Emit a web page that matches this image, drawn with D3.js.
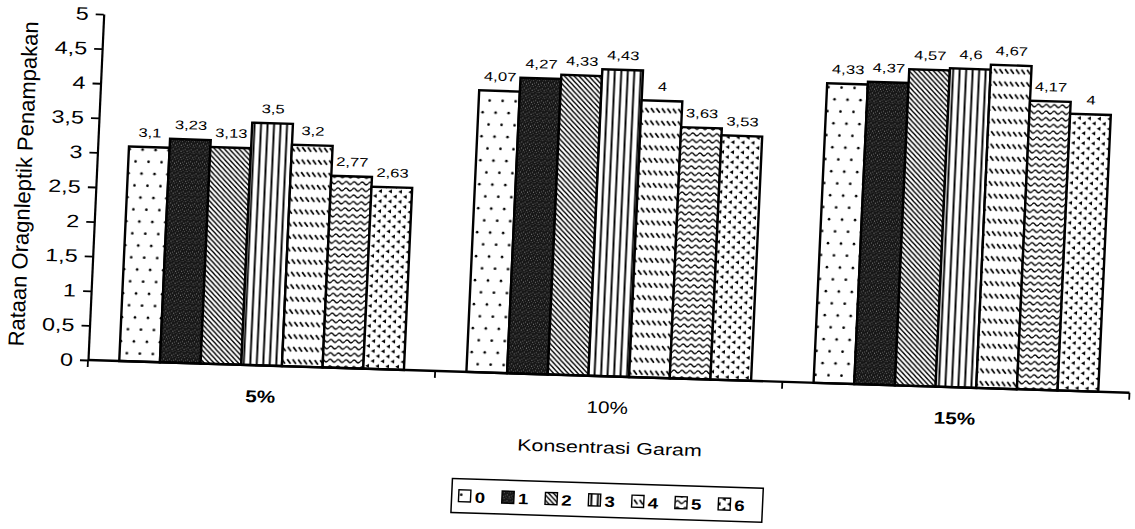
<!DOCTYPE html>
<html><head><meta charset="utf-8">
<script src="https://cdn.jsdelivr.net/npm/d3@7"></script>
<style>html,body{margin:0;padding:0;background:#fff;} svg{display:block;}</style>
</head><body><svg id="chart" width="1135" height="529"></svg>
<script>
// ---------------- data ----------------
const categories = ["5%", "10%", "15%"];
const seriesNames = ["0", "1", "2", "3", "4", "5", "6"];
const series0 = [3.1, 4.07, 4.33];
const series1 = [3.23, 4.27, 4.37];
const series2 = [3.13, 4.33, 4.57];
const series3 = [3.5, 4.43, 4.6];
const series4 = [3.2, 4, 4.67];
const series5 = [2.77, 3.63, 4.17];
const series6 = [2.63, 3.53, 4];
const yTickValues = [0, 0.5, 1, 1.5, 2, 2.5, 3, 3.5, 4, 4.5, 5];
const yTitle = "Rataan Oragnleptik Penampakan";
const xTitle = "Konsentrasi Garam";

const seriesValues = [series0, series1, series2, series3, series4, series5, series6];
const fmt = v => String(v).replace(".", ",");
const FONT = "'Liberation Sans', Arial, sans-serif";

const svg = d3.select("#chart");
const defs = svg.append("defs");

// ---------------- patterns ----------------
function pat(id, w, h) {
  const p = defs.append("pattern").attr("id", id).attr("patternUnits", "userSpaceOnUse")
    .attr("width", w).attr("height", h);
  p.append("rect").attr("width", w).attr("height", h).attr("fill", "#fff");
  return p;
}
// 0: sparse dots
{ const p = pat("p0", 13, 24);
  p.append("circle").attr("cx", 3).attr("cy", 4).attr("r", 1.3).attr("fill", "#000");
  p.append("circle").attr("cx", 9.5).attr("cy", 16).attr("r", 1.3).attr("fill", "#000"); }
// 1: dark speckled
{ const p = pat("p1", 6, 6);
  p.select("rect").attr("fill", "#161616");
  [[1,2,"#7a7a7a"],[4,0,"#5a5a5a"],[3,4,"#888"],[0,5,"#4a4a4a"],[5,3,"#606060"],[2,0,"#3a3a3a"]].forEach(d =>
    p.append("rect").attr("x", d[0]).attr("y", d[1]).attr("width", 1).attr("height", 1).attr("fill", d[2])); }
// 2: diagonal "\" lines
{ const p = pat("p2", 5, 5);
  p.append("path").attr("d", "M0,0 L5,5 M-1,4 L1,6 M4,-1 L6,1").attr("stroke", "#000").attr("stroke-width", 1.35); }
// 3: vertical lines
{ const p = pat("p3", 6.5, 10);
  p.append("line").attr("x1", 3.25).attr("x2", 3.25).attr("y1", 0).attr("y2", 10).attr("stroke", "#000").attr("stroke-width", 1.9); }
// 4: rows of short "\" dashes
{ const p = pat("p4", 5.5, 12.5);
  p.append("path").attr("d", "M1,3 L4.5,7.5").attr("stroke", "#000").attr("stroke-width", 1.7); }
// 5: waves
{ const p = pat("p5", 8, 6.6);
  p.append("path").attr("d", "M0,3.3 Q2,0.6 4,3.3 T8,3.3").attr("fill", "none").attr("stroke", "#000").attr("stroke-width", 1.35); }
// 6: small left-pointing triangles
{ const p = pat("p6", 10, 10);
  p.append("path").attr("d", "M0.3,2 L4,0 L4,4 Z M5.3,7 L9,5 L9,9 Z").attr("fill", "#000"); }

// ---------------- layout (slightly skewed like the scan) ----------------
const ox = 88, oy = 360;
const root = svg.append("g")
  .attr("transform", `translate(${ox},${oy}) matrix(0.9995,0.0314,-0.0454,0.999,0,0) translate(${-ox},${-oy})`)
  .attr("font-family", FONT);

const x0 = d3.scaleBand().domain(categories).range([88, 1130]).paddingInner(0.18).paddingOuter(0.09);
const x1 = d3.scaleBand().domain(seriesNames).range([0, x0.bandwidth()]);
const y = d3.scaleLinear().domain([0, 5]).range([360, 13.7]);

function stext(parent, x, yy, str, size, sx, anchor, weight) {
  const g = parent.append("g").attr("transform", `translate(${x},${yy}) scale(${sx},1)`);
  g.append("text").attr("text-anchor", anchor).attr("font-size", size)
    .attr("font-weight", weight || "normal").attr("fill", "#000").text(str);
  return g;
}

// bars
categories.forEach((cat, ci) => {
  seriesNames.forEach((s, si) => {
    const v = seriesValues[si][ci];
    const bx = x0(cat) + x1(s);
    root.append("rect")
      .attr("x", bx).attr("y", y(v))
      .attr("width", x1.bandwidth()).attr("height", y(0) - y(v))
      .attr("fill", `url(#p${si})`).attr("stroke", "#000").attr("stroke-width", 2.4);
  });
});
// value labels
categories.forEach((cat, ci) => {
  seriesNames.forEach((s, si) => {
    const v = seriesValues[si][ci];
    stext(root, x0(cat) + x1(s) + x1.bandwidth() / 2, y(v) - 10, fmt(v), 12.5, 1.33, "middle");
  });
});

// y axis
const yAxis = root.append("g").attr("transform", `translate(${ox},0)`)
  .call(d3.axisLeft(y).tickValues(yTickValues).tickSize(8).tickSizeOuter(0).tickPadding(7).tickFormat(fmt));
yAxis.select(".domain").attr("stroke", "#000").attr("stroke-width", 2.2);
yAxis.selectAll(".tick line").attr("stroke", "#000").attr("stroke-width", 1.8);
const ysx = 1.3;
yAxis.selectAll(".tick text")
  .attr("font-size", 18).attr("font-family", FONT).attr("fill", "#000")
  .attr("x", -15 / ysx).attr("transform", `scale(${ysx},1)`);

// x axis
const xr = x0.range();
root.append("line").attr("x1", xr[0]).attr("x2", xr[1]).attr("y1", y(0)).attr("y2", y(0))
  .attr("stroke", "#000").attr("stroke-width", 2.4);
d3.range(categories.length + 1).forEach(i => {
  const bx = xr[0] + i * x0.step();
  root.append("line").attr("x1", bx).attr("x2", bx).attr("y1", y(0)).attr("y2", y(0) + 7)
    .attr("stroke", "#000").attr("stroke-width", 1.8);
});
categories.forEach((cat, ci) => {
  stext(root, x0(cat) + x0.bandwidth() / 2, y(0) + 37, cat, 17, 1.22, "middle", ci === 1 ? "normal" : "bold");
});

// axis titles
stext(root, 613, 437, xTitle, 16.5, 1.3, "middle");
root.append("text").attr("transform", "translate(23,186) rotate(-90)")
  .attr("text-anchor", "middle").attr("font-size", 22).attr("fill", "#000").text(yTitle);

// legend
const LW = 311, LH = 34;
const lg = root.append("g").attr("transform", `translate(${613 - LW / 2},${484 - LH / 2})`);
lg.append("rect").attr("width", LW).attr("height", LH).attr("fill", "#fff")
  .attr("stroke", "#000").attr("stroke-width", 1.5);
seriesNames.forEach((s, si) => {
  const lx = 7 + si * 43.3;
  lg.append("rect").attr("x", lx).attr("y", 11).attr("width", 12).attr("height", 12)
    .attr("fill", `url(#p${si})`).attr("stroke", "#000").attr("stroke-width", 1.4);
  stext(lg, lx + 16, 23.5, s, 15, 1.25, "start", "bold");
});
</script></body></html>
